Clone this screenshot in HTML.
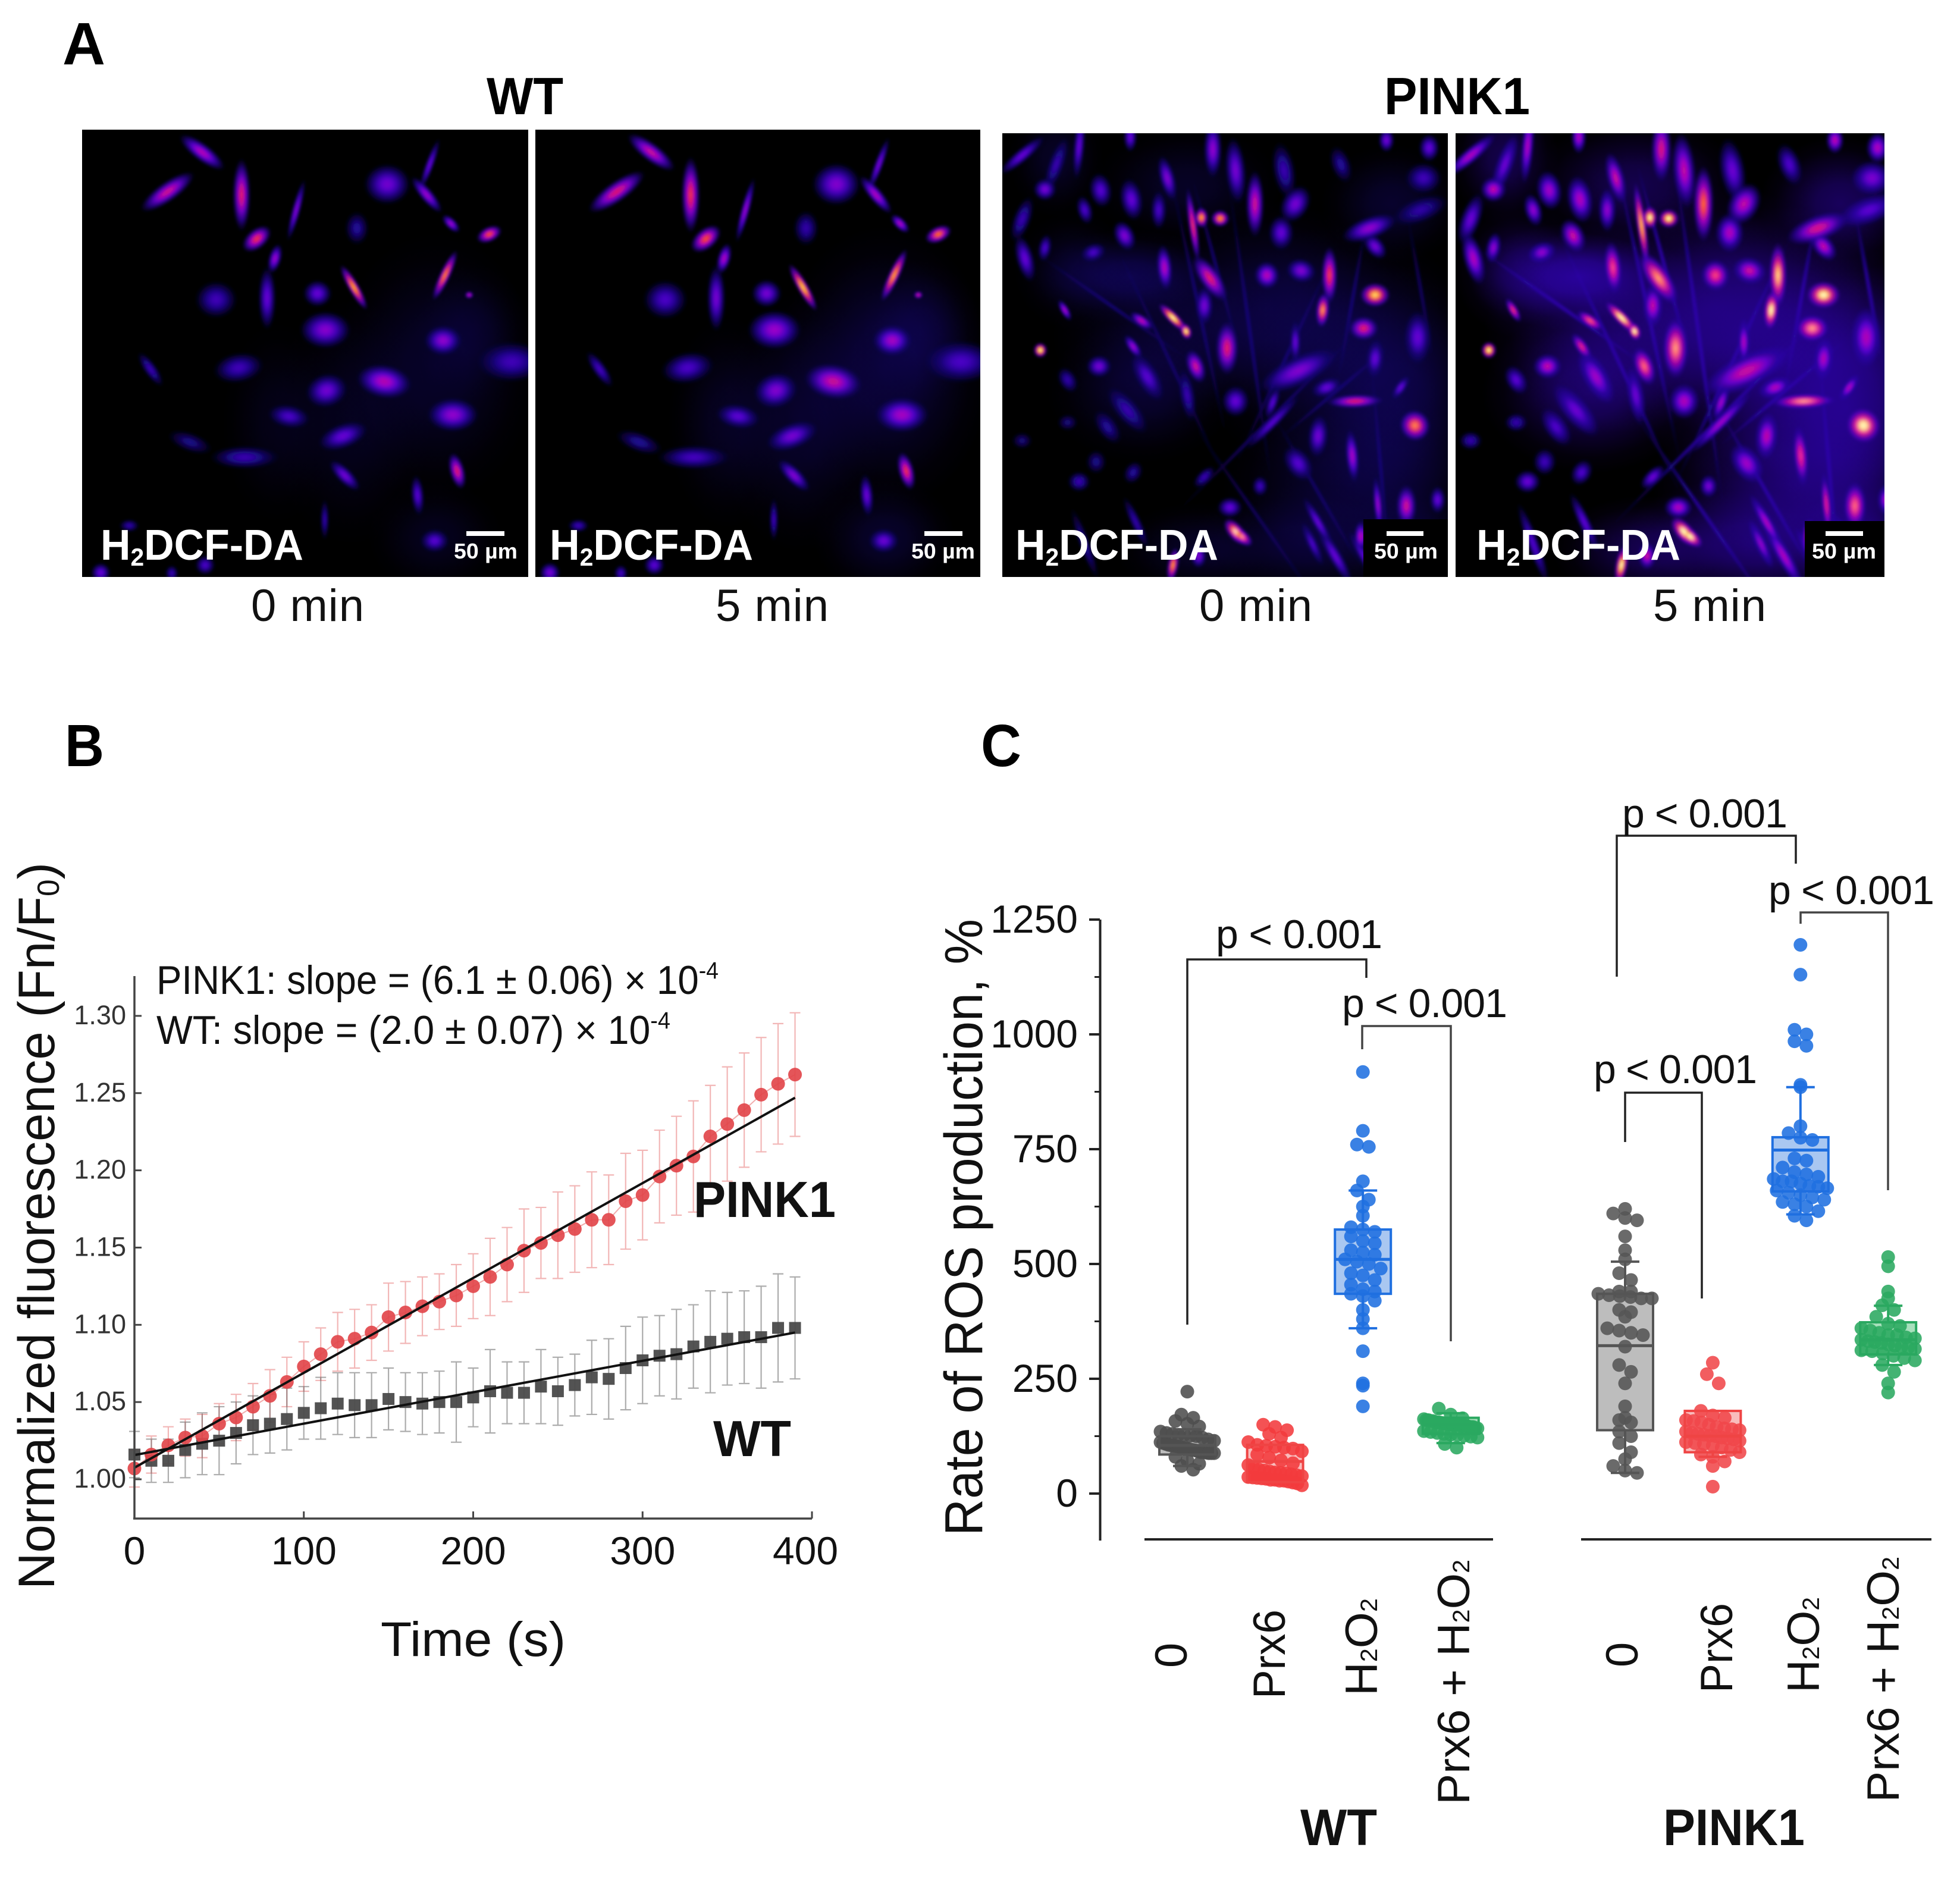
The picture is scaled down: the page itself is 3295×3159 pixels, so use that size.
<!DOCTYPE html>
<html lang="en">
<head>
<meta charset="utf-8">
<title>ROS production figure</title>
<style>
html,body{margin:0;padding:0;background:#fff;}
svg{display:block;}
text{font-family:"Liberation Sans",sans-serif;}
.cell{mix-blend-mode:lighten;}
</style>
</head>
<body>
<svg id="fig" xmlns="http://www.w3.org/2000/svg" width="3295" height="3159" viewBox="0 0 3295 3159">
<defs id="defs">
<filter id="soft" filterUnits="userSpaceOnUse" x="100" y="180" width="3100" height="830"><feGaussianBlur stdDeviation="2.5"/></filter>
<clipPath id="clip-p1"><rect x="138" y="218" width="750" height="752"/></clipPath>
<clipPath id="clip-p2"><rect x="900" y="218" width="748" height="752"/></clipPath>
<clipPath id="clip-p3"><rect x="1685" y="224" width="749" height="746"/></clipPath>
<clipPath id="clip-p4"><rect x="2447" y="224" width="721" height="746"/></clipPath>
</defs>
<rect width="3295" height="3159" fill="#fff"/>

<text x="105" y="108" font-size="100" font-weight="bold" textLength="72" lengthAdjust="spacingAndGlyphs">A</text>
<text x="109" y="1288" font-size="100" font-weight="bold" textLength="66" lengthAdjust="spacingAndGlyphs">B</text>
<text x="1649" y="1288" font-size="100" font-weight="bold" textLength="68" lengthAdjust="spacingAndGlyphs">C</text>

<text x="818" y="192" font-size="88" font-weight="bold" textLength="129" lengthAdjust="spacingAndGlyphs">WT</text>
<text x="2327" y="192" font-size="88" font-weight="bold" textLength="245" lengthAdjust="spacingAndGlyphs">PINK1</text>

<g id="panels"></g>

<g fill="#fff">
  <rect x="2292" y="873" width="142" height="97" fill="#000"/>
  <rect x="3034" y="876" width="134" height="94" fill="#000"/>
  <text x="169" y="941" font-size="72" font-weight="bold" textLength="341" lengthAdjust="spacingAndGlyphs">H<tspan font-size="42" dy="10">2</tspan><tspan dy="-10">DCF-DA</tspan></text>
  <text x="924" y="941" font-size="72" font-weight="bold" textLength="342" lengthAdjust="spacingAndGlyphs">H<tspan font-size="42" dy="10">2</tspan><tspan dy="-10">DCF-DA</tspan></text>
  <text x="1707" y="941" font-size="72" font-weight="bold" textLength="341" lengthAdjust="spacingAndGlyphs">H<tspan font-size="42" dy="10">2</tspan><tspan dy="-10">DCF-DA</tspan></text>
  <text x="2482" y="941" font-size="72" font-weight="bold" textLength="343" lengthAdjust="spacingAndGlyphs">H<tspan font-size="42" dy="10">2</tspan><tspan dy="-10">DCF-DA</tspan></text>
  <rect x="784" y="893" width="64" height="8"/>
  <rect x="1554" y="893" width="64" height="8"/>
  <rect x="2331" y="893" width="62" height="8"/>
  <rect x="3069" y="893" width="63" height="8"/>
  <text x="763" y="939" font-size="36" font-weight="bold" textLength="107" lengthAdjust="spacingAndGlyphs">50 µm</text>
  <text x="1532" y="939" font-size="36" font-weight="bold" textLength="107" lengthAdjust="spacingAndGlyphs">50 µm</text>
  <text x="2310" y="939" font-size="36" font-weight="bold" textLength="107" lengthAdjust="spacingAndGlyphs">50 µm</text>
  <text x="3046" y="939" font-size="36" font-weight="bold" textLength="108" lengthAdjust="spacingAndGlyphs">50 µm</text>
</g>

<g font-size="76" fill="#111">
  <text x="422" y="1044" textLength="190">0 min</text>
  <text x="1203" y="1044" textLength="190">5 min</text>
  <text x="2016" y="1044" textLength="190">0 min</text>
  <text x="2779" y="1044" textLength="190">5 min</text>
</g>

<g id="chart-b"></g>
<text transform="translate(91,2672) rotate(-90)" font-size="86" fill="#111" textLength="1222" lengthAdjust="spacingAndGlyphs">Normalized fluorescence (Fn/F<tspan font-size="52" dy="8">0</tspan><tspan dy="-8">)</tspan></text>
<text x="640" y="2784" font-size="82" fill="#111" textLength="311" lengthAdjust="spacingAndGlyphs">Time (s)</text>
<text x="263" y="1671" font-size="68" fill="#111" textLength="945" lengthAdjust="spacingAndGlyphs">PINK1: slope = (6.1 ± 0.06) × 10<tspan font-size="40" dy="-26">-4</tspan></text>
<text x="263" y="1755" font-size="68" fill="#111" textLength="864" lengthAdjust="spacingAndGlyphs">WT: slope = (2.0 ± 0.07) × 10<tspan font-size="40" dy="-26">-4</tspan></text>
<text x="1166" y="2046" font-size="85" font-weight="bold" fill="#111" textLength="239" lengthAdjust="spacingAndGlyphs">PINK1</text>
<text x="1199" y="2448" font-size="85" font-weight="bold" fill="#111" textLength="131" lengthAdjust="spacingAndGlyphs">WT</text>

<g id="chart-c"></g>
<text transform="translate(1651,2582) rotate(-90)" font-size="90" fill="#111" textLength="1037" lengthAdjust="spacingAndGlyphs">Rate of ROS production, %</text>

<g fill="none" stroke="#222" stroke-width="3.5">
  <path d="M1996 2227V1613H2297V1644"/>
  <path d="M2290 1764V1725H2439V2255" stroke="#444"/>
  <path d="M2732 1920V1837H2861V2183"/>
  <path d="M2718 1642V1405H3019V1452"/>
  <path d="M3027 1553V1534H3174V2001" stroke="#444"/>
</g>
<g font-size="68" fill="#111">
  <text x="2044" y="1594" textLength="280">p &lt; 0.001</text>
  <text x="2256" y="1710" textLength="278">p &lt; 0.001</text>
  <text x="2679" y="1821" textLength="275">p &lt; 0.001</text>
  <text x="2727" y="1391" textLength="278">p &lt; 0.001</text>
  <text x="2973" y="1520" textLength="279">p &lt; 0.001</text>
</g>

<g font-size="76" fill="#111">
  <text transform="translate(1995,2804) rotate(-90)">0</text>
  <text transform="translate(2160,2856) rotate(-90)" textLength="150" lengthAdjust="spacingAndGlyphs">Prx6</text>
  <text transform="translate(2315,2851) rotate(-90)" textLength="164" lengthAdjust="spacingAndGlyphs">H<tspan font-size="40">2</tspan>O<tspan font-size="40">2</tspan></text>
  <text transform="translate(2470,3034) rotate(-90)" textLength="412" lengthAdjust="spacingAndGlyphs">Prx6 + H<tspan font-size="40">2</tspan>O<tspan font-size="40">2</tspan></text>
  <text transform="translate(2753,2803) rotate(-90)">0</text>
  <text transform="translate(2912,2846) rotate(-90)" textLength="151" lengthAdjust="spacingAndGlyphs">Prx6</text>
  <text transform="translate(3058,2846) rotate(-90)" textLength="161" lengthAdjust="spacingAndGlyphs">H<tspan font-size="40">2</tspan>O<tspan font-size="40">2</tspan></text>
  <text transform="translate(3192,3030) rotate(-90)" textLength="413" lengthAdjust="spacingAndGlyphs">Prx6 + H<tspan font-size="40">2</tspan>O<tspan font-size="40">2</tspan></text>
</g>
<text x="2186" y="3102" font-size="86" font-weight="bold" fill="#111" textLength="129" lengthAdjust="spacingAndGlyphs">WT</text>
<text x="2796" y="3102" font-size="86" font-weight="bold" fill="#111" textLength="238" lengthAdjust="spacingAndGlyphs">PINK1</text>
<rect x="1924" y="2586" width="586" height="4" fill="#222"/>
<rect x="2658" y="2586" width="589" height="4" fill="#222"/>

<script>
// ---------- Panel B data ----------
var timePoints = [0,10,20,30,40,50,60,70,80,90,100,110,120,130,140,150,160,170,180,190,200,210,220,230,240,250,260,270,280,290,300,310,320,330,340,350,360,370,380,390];
var pink1Mean = [1.007,1.016,1.022,1.027,1.028,1.036,1.040,1.047,1.054,1.063,1.073,1.081,1.089,1.091,1.095,1.105,1.108,1.112,1.115,1.119,1.125,1.131,1.139,1.148,1.153,1.158,1.162,1.168,1.168,1.180,1.184,1.196,1.203,1.209,1.222,1.230,1.239,1.249,1.256,1.262];
var pink1Err = [.012,.012,.012,.012,.014,.013,.015,.015,.017,.016,.016,.017,.019,.019,.018,.022,.020,.019,.018,.020,.021,.025,.024,.027,.023,.028,.028,.031,.029,.031,.029,.030,.032,.036,.033,.037,.037,.037,.039,.040];
var wtMean = [1.016,1.012,1.012,1.019,1.023,1.025,1.030,1.035,1.036,1.039,1.043,1.046,1.049,1.048,1.048,1.052,1.050,1.049,1.050,1.050,1.053,1.057,1.056,1.056,1.060,1.057,1.061,1.066,1.065,1.072,1.077,1.080,1.081,1.086,1.089,1.091,1.092,1.092,1.098,1.098];
var wtErr = [.015,.014,.014,.018,.020,.022,.020,.019,.019,.020,.017,.020,.020,.021,.021,.020,.019,.020,.020,.026,.019,.027,.020,.020,.024,.022,.020,.024,.026,.027,.028,.026,.029,.027,.033,.030,.030,.033,.035,.033];
var pink1Fit = [1.0075,1.247];
var wtFit = [1.0157,1.095];
var fitTimes = [0,390];
var bXTicks = [0,100,200,300,400];
var bYTicks = [1.00,1.05,1.10,1.15,1.20,1.25,1.30];

// ---------- Panel C data ----------
var cYTicks = [0,250,500,750,1000,1250];
var cMinorTicks = [125,375,625,875,1125];
var wt0Vals = [222,172,165,158,152,146,135,132,130,128,128,126,125,122,118,115,112,110,108,106,105,104,103,102,100,100,98,96,95,94,92,90,90,89,88,88,88,80,72,65,60,52];
var wtPrxVals = [150,145,138,130,122,112,106,104,102,100,98,92,85,78,72,66,62,56,52,50,48,46,45,44,42,40,38,36,35,34,33,32,30,30,28,28,26,24,22,18];
var wtH2o2Vals = [918,790,760,755,680,660,640,625,605,580,575,570,560,550,545,530,525,520,510,505,500,490,480,475,465,455,445,440,435,430,420,400,380,360,310,240,235,190];
var wtComboVals = [185,172,164,162,160,160,158,158,156,155,155,154,153,152,152,151,150,150,150,149,148,148,147,146,145,145,143,142,136,134,132,130,128,128,126,124,122,108,100];
var pk0Vals = [620,610,600,595,560,530,510,480,465,440,440,435,432,430,428,425,425,400,395,385,360,355,350,345,320,280,265,240,190,165,160,155,135,125,110,90,75,60,50,45];
var pkPrxVals = [285,260,240,180,170,165,160,158,155,150,145,142,140,138,135,132,130,128,126,125,122,120,118,115,112,110,108,105,100,95,90,85,80,70,60,15];
var pkH2o2Vals = [1195,1130,1010,1000,985,975,890,885,800,785,775,770,730,725,710,700,695,690,685,680,680,675,670,668,665,660,655,650,645,640,635,630,625,615,605,595];
var pkComboVals = [515,495,440,425,410,400,385,370,365,360,355,350,345,345,340,338,335,332,330,328,325,322,320,318,315,312,310,305,300,295,290,280,265,240,220];
var groupNames = ['wt-0','wt-prx6','wt-h2o2','wt-combo','pink1-0','pink1-prx6','pink1-h2o2','pink1-combo'];
var groupValues = [wt0Vals,wtPrxVals,wtH2o2Vals,wtComboVals,pk0Vals,pkPrxVals,pkH2o2Vals,pkComboVals];
var boxQ1 = [85,25,435,130,138,90,658,303];
var boxMedian = [105,70,510,150,322,125,748,335];
var boxQ3 = [125,106,575,165,435,180,776,373];
var whiskerLow = [60,25,360,110,45,80,608,280];
var whiskerHigh = [140,106,660,175,505,180,885,409];

// ---------- Microscopy appearance (image reconstruction, not chart data) ----------
var wtCells = [[235,110,30,7,-53,.45],[178,240,35,8,55,.5],[300,250,40,7,0,.55],[390,300,35,3,15,.35],[325,395,18,8,50,.6],[355,460,16,5,15,.4],[485,555,28,4,-30,.78],[635,515,30,4,25,.72],[708,380,14,6,65,.65],[645,345,12,4,-45,.4],[540,215,22,20,0,.32],[610,150,30,3,20,.3],[605,250,25,5,-40,.4],[490,360,18,10,0,.15],[258,595,20,18,0,.22],[342,590,35,7,0,.3],[425,575,14,12,0,.3],[438,695,20,22,0,.36],[632,730,16,16,0,.38],[745,800,22,30,0,.22],[295,820,16,22,-10,.22],[150,825,22,5,-35,.2],[440,895,18,18,-15,.32],[535,865,18,24,10,.45],[648,975,18,22,0,.38],[378,980,12,18,10,.25],[467,1045,13,22,-20,.3],[305,1115,12,30,0,.2],[215,1065,10,20,20,.12],[470,1175,22,6,-45,.32],[655,1160,20,6,-15,.55],[590,1240,22,5,-5,.28],[437,1320,22,3,0,.18],[618,1390,12,12,0,.28],[68,1495,10,8,0,.3],[240,1470,10,8,0,.25],[185,1497,8,5,0,.2],[115,1340,6,8,0,.18],[675,580,3,3,0,.5]];
var wtHaze = [[620,820,90,120,.07],[480,1000,70,110,.05],[680,700,50,60,.05],[360,1000,50,90,.04],[620,1380,60,50,.05]];
var pinkCells = [[40,120,30,5,50,.3],[140,90,35,4,5,.3],[230,60,15,5,0,.3],[375,100,30,7,0,.38],[415,170,35,8,-5,.33],[500,170,30,9,-10,.2],[520,280,14,16,-60,.33],[449,280,35,7,0,.5],[745,195,16,15,0,.22],[680,70,12,6,0,.32],[755,95,14,8,0,.3],[80,232,11,9,0,.33],[178,235,18,9,-10,.28],[232,265,22,9,-10,.3],[150,300,15,6,-15,.25],[295,195,24,6,-15,.35],[280,300,20,6,0,.25],[355,325,10,5,0,.78],[388,328,8,7,0,.75],[340,350,40,3,-8,.6],[220,385,16,8,-25,.35],[495,375,18,10,0,.3],[650,360,30,9,70,.38],[660,420,15,7,-40,.33],[740,300,30,10,70,.18],[45,460,25,7,-15,.3],[80,425,14,5,10,.25],[165,440,13,7,70,.25],[290,490,24,6,-5,.45],[370,525,28,8,-35,.55],[470,515,14,10,-10,.45],[530,500,12,12,15,.35],[580,515,30,6,0,.62],[660,580,12,12,0,.85],[568,630,18,5,5,.75],[640,690,12,12,0,.55],[735,720,28,11,0,.3],[305,655,20,4,-45,.98],[328,700,8,4,-20,1],[72,762,7,5,0,1],[250,665,14,4,-55,.48],[115,630,12,3,-30,.42],[360,615,20,7,0,.33],[400,755,28,9,0,.55],[235,750,14,4,-35,.4],[345,815,18,7,-20,.5],[175,815,11,10,0,.33],[260,850,28,9,-30,.28],[660,790,20,7,5,.3],[525,830,45,12,65,.35],[520,735,22,4,0,.3],[120,860,14,7,-30,.18],[575,885,16,7,70,.3],[415,930,16,11,0,.3],[480,935,18,4,20,.28],[625,930,30,5,88,.55],[705,885,14,4,35,.3],[330,910,28,6,-10,.2],[225,960,30,9,-40,.2],[190,1015,20,8,-35,.15],[730,1010,16,12,-35,.72],[480,1000,40,4,45,.28],[560,1045,22,8,5,.32],[620,1110,28,5,-5,.42],[525,1135,20,10,-35,.28],[120,1000,8,8,0,.1],[170,1130,12,8,0,.12],[235,1165,12,7,30,.15],[140,1195,10,9,0,.2],[360,1180,14,5,45,.2],[458,1210,10,6,0,.22],[405,1280,10,10,0,.3],[715,1275,22,8,0,.5],[665,1270,30,3,-5,.4],[770,1255,14,6,0,.3],[415,1360,16,6,-40,.85],[425,1375,14,5,-50,.75],[635,1375,16,5,0,.45],[305,1470,18,4,10,.75],[350,1440,12,6,0,.35],[550,1400,25,4,-25,.25],[40,1060,8,8,0,.1],[720,1500,6,4,0,.55],[560,1330,30,4,-30,.3],[590,1440,35,5,-30,.3],[700,1400,30,4,-20,.25],[150,1400,40,4,-20,.15],[240,1330,30,4,-25,.18],[640,1440,30,4,-30,.28],[40,330,25,7,20,.2],[600,150,20,8,-20,.15],[100,150,30,6,20,.2],
[350,620,150,1.2,-12,.1],[440,700,170,1.2,-8,.11],[500,800,130,1.2,25,.1],[470,1000,140,1.2,45,.1],[300,800,140,1.2,-25,.09],[200,620,100,1.2,-55,.1],[590,900,80,1.2,50,.1],[670,1150,110,1.2,-5,.1],[560,1230,100,1.2,-30,.09],[450,1300,120,1.2,-35,.08],[380,480,100,1.2,-15,.1],[620,600,90,1.2,10,.1],[740,560,80,1.2,-10,.09]];
var pinkHaze = [[230,520,80,40,.1],[600,780,120,110,.08],[470,620,110,90,.07],[700,950,80,120,.08],[300,720,100,70,.06],[620,1200,110,80,.07],[250,900,80,60,.06],[130,500,50,50,.05],[690,280,60,50,.06],[330,220,80,50,.05],[100,130,40,50,.05],[540,1400,100,50,.07],[720,1400,60,50,.07],[350,1420,70,40,.05]];
var fireStops = [[0,0,0,0],[.15,24,8,130],[.3,80,0,205],[.45,160,0,200],[.6,225,20,105],[.75,255,110,20],[.88,255,208,50],[1,255,255,255]];

var SVGNS = 'http://www.w3.org/2000/svg';
function mk(parent, tag, attrs){
  var el = document.createElementNS(SVGNS, tag);
  for (var k in attrs) el.setAttribute(k, attrs[k]);
  parent.appendChild(el);
  return el;
}
function fire(i){
  i = Math.max(0, Math.min(1, i));
  for (var s = 1; s < fireStops.length; s++){
    if (i <= fireStops[s][0]){
      var a = fireStops[s-1], b = fireStops[s], t = (i-a[0])/(b[0]-a[0]);
      return 'rgb(' + [1,2,3].map(function(n){return Math.round(a[n]+(b[n]-a[n])*t);}).join(',') + ')';
    }
  }
  return '#fff';
}
var gradCache = {};
function cellGradient(peak){
  var key = 'cg' + Math.round(peak*100);
  if (gradCache[key]) return key;
  gradCache[key] = 1;
  var p = Math.round(peak*100)/100;
  var grad = mk(document.getElementById('defs'), 'radialGradient', {id:key});
  mk(grad, 'stop', {offset:0, 'stop-color':fire(p)});
  mk(grad, 'stop', {offset:.22, 'stop-color':fire(p*.88)});
  mk(grad, 'stop', {offset:.45, 'stop-color':fire(p*.62), 'stop-opacity':.97});
  mk(grad, 'stop', {offset:.72, 'stop-color':fire(p*.35), 'stop-opacity':.75});
  mk(grad, 'stop', {offset:1, 'stop-color':fire(p*.2), 'stop-opacity':0});
  return key;
}
function hazeGradient(alpha, color){
  var key = 'hg' + Math.round(alpha*100) + color.replace(/[^0-9]/g,'');
  if (gradCache[key]) return key;
  gradCache[key] = 1;
  var grad = mk(document.getElementById('defs'), 'radialGradient', {id:key});
  mk(grad, 'stop', {offset:0, 'stop-color':color, 'stop-opacity':alpha});
  mk(grad, 'stop', {offset:.3, 'stop-color':color, 'stop-opacity':alpha*.82});
  mk(grad, 'stop', {offset:.55, 'stop-color':color, 'stop-opacity':alpha*.45});
  mk(grad, 'stop', {offset:.8, 'stop-color':color, 'stop-opacity':alpha*.12});
  mk(grad, 'stop', {offset:1, 'stop-color':color, 'stop-opacity':0});
  return key;
}
function drawPanel(name, clip, rect, cells, haze, map, boost, hazeK, hazeColor, grow){
  var panels = document.getElementById('panels');
  var g = mk(panels, 'g', {'clip-path':'url(#'+clip+')'});
  
  
  mk(g, 'rect', {x:rect[0], y:rect[1], width:rect[2], height:rect[3], fill:'#000'});
  var wrap = mk(g, 'g', {style:'isolation:isolate'});
  haze.forEach(function(h){
    var p = map(h[0], h[1]);
    mk(wrap, 'ellipse', {cx:p[0], cy:p[1], rx:h[2]*1.9*grow, ry:h[3]*1.9*grow,
      fill:'url(#'+hazeGradient(Math.min(1,h[4]*hazeK), hazeColor)+')'});
  });
  var b = mk(wrap, 'g', {filter:'url(#soft)', 'class':'cell', style:'isolation:isolate'});
  cells.forEach(function(c){
    var p = map(c[0], c[1]);
    var peak = boost(c[5]);
    mk(b, 'ellipse', {'class':'cell', cx:0, cy:0, rx:c[3]*1.9*grow+2, ry:c[2]*1.5*grow+2,
      transform:'translate('+p[0].toFixed(1)+','+p[1].toFixed(1)+') rotate('+c[4]+')',
      fill:'url(#'+cellGradient(peak)+')'});
  });
}
drawPanel('microscopy-wt-0min','clip-p1',[138,218,750,752],wtCells,wtHaze,function(x,y){return [100+x/.98,200+y/1.96];},function(i){return Math.min(1,i*1.05+.03);},5,'rgb(20,6,120)',1);
drawPanel('microscopy-wt-5min','clip-p2',[900,218,748,752],wtCells,wtHaze,function(x,y){return [100+x/.98+755,200+y/1.96];},function(i){return Math.min(1,i*1.1+.05);},7,'rgb(22,6,125)',1.05);
drawPanel('microscopy-pink1-0min','clip-p3',[1685,224,749,746],pinkCells,pinkHaze,function(x,y){return [1680+x/1.045,200+y/1.96];},function(i){return Math.min(1,i*1.05+.03);},6,'rgb(22,6,125)',1.05);
drawPanel('microscopy-pink1-5min','clip-p4',[2447,224,721,746],pinkCells,pinkHaze,function(x,y){return [1680+x/1.045+754,200+y/1.96];},function(i){return Math.min(1,i*1.3+.1);},9,'rgb(45,2,170)',1.2);

// ---------- Panel B ----------
var chartB = document.getElementById('chart-b');
var bx0 = 226, bPxPerSec = 2.8475, by0 = 2487, bPxPerUnit = 2597;
function bX(t){ return bx0 + t*bPxPerSec; }
function bY(v){ return by0 - (v-1)*bPxPerUnit; }

function drawErrors(means, errs, color, name){
  var g = mk(chartB, 'g', {stroke:color, 'stroke-width':2.2, fill:'none'});
  
  
  means.forEach(function(m, i){
    var x = bX(timePoints[i]), hi = bY(m+errs[i]), lo = bY(m-errs[i]);
    mk(g, 'path', {d:'M'+x+' '+hi+'V'+lo+'M'+(x-9)+' '+hi+'H'+(x+9)+'M'+(x-9)+' '+lo+'H'+(x+9)});
  });
}
drawErrors(pink1Mean, pink1Err, 'rgba(224,80,80,.42)', 'pink1-error-bars');
drawErrors(wtMean, wtErr, 'rgba(70,70,70,.45)', 'wt-error-bars');

function drawLink(means, color, name){
  var pl = mk(chartB, 'polyline', {fill:'none', stroke:color, 'stroke-width':2,
    points: means.map(function(m,i){return bX(timePoints[i])+','+bY(m);}).join(' ')});
  
  
}
drawLink(pink1Mean, 'rgba(224,70,70,.45)', 'pink1-connector');

wtMean.forEach(function(m, i){
  var s = mk(chartB, 'rect', {x:bX(timePoints[i])-10, y:bY(m)-10, width:20, height:20, fill:'#4a4a4a', 'fill-opacity':.95});
  
  
});
pink1Mean.forEach(function(m, i){
  var c = mk(chartB, 'circle', {cx:bX(timePoints[i]), cy:bY(m), r:11.5, fill:'#e2474b', 'fill-opacity':.92});
  
  
});

var pinkFitLine = mk(chartB, 'line', {x1:bX(fitTimes[0]), y1:bY(pink1Fit[0]), x2:bX(fitTimes[1]), y2:bY(pink1Fit[1]), stroke:'#111', 'stroke-width':4});


var wtFitLine = mk(chartB, 'line', {x1:bX(fitTimes[0]), y1:bY(wtFit[0]), x2:bX(fitTimes[1]), y2:bY(wtFit[1]), stroke:'#111', 'stroke-width':4});



var bAxisY = mk(chartB, 'line', {x1:226, y1:1641, x2:226, y2:2554, stroke:'#444', 'stroke-width':3.5});


var bAxisX = mk(chartB, 'line', {x1:224, y1:2553, x2:1365, y2:2553, stroke:'#444', 'stroke-width':3.5});



bXTicks.forEach(function(t){
  var x = bX(t);
  var tk = mk(chartB, 'line', {x1:x, y1:2553, x2:x, y2:2541, stroke:'#444', 'stroke-width':3});
  
  
  var lb = mk(chartB, 'text', {x:Math.min(x,1354), y:2630, 'font-size':66, 'text-anchor':'middle', fill:'#111'});
  lb.textContent = String(t);
  
  
});
bYTicks.forEach(function(v){
  var y = bY(v);
  var tk = mk(chartB, 'line', {x1:226, y1:y, x2:238, y2:y, stroke:'#444', 'stroke-width':3});
  
  
  var lb = mk(chartB, 'text', {x:212, y:y+14, 'font-size':45, 'text-anchor':'end', fill:'#333'});
  lb.textContent = v.toFixed(2);
  
  
});

// ---------- Panel C ----------
var chartC = document.getElementById('chart-c');
var cy0 = 2511, cPxPerUnit = 0.772;
function cY(v){ return cy0 - v*cPxPerUnit; }
function cX(i){
  // two facets of four equally spaced categories
  return i < 4 ? 1996 + i*147.6 : 2732 + (i-4)*147.4;
}
var strokeCols = ['#555','#ef4444','#1f6fe0','#2aa860','#555','#ef4444','#1f6fe0','#2aa860'];
var fillCols = ['#bdbdbd','#f9bcbc','#a9c7f1','#a8e0bc','#bdbdbd','#f9bcbc','#a9c7f1','#a8e0bc'];
var dotCols = ['#4d4d4d','#f23a3c','#1f6fe0','#2aa860','#555555','#f0474a','#1f6fe0','#2aa860'];
var boxHalf = 47, capHalf = 24, dotR = 11.5;

function swarm(vals){
  var bins = {}, out = [];
  vals.forEach(function(v, i){
    var b = Math.round(v/25);
    (bins[b] = bins[b] || []).push(i);
  });
  Object.keys(bins).forEach(function(b){
    var idx = bins[b], n = idx.length;
    var step = n > 1 ? Math.min(20, 90/(n-1)) : 0;
    idx.forEach(function(id, k){ out[id] = (k-(n-1)/2)*step; });
  });
  return out;
}

groupValues.forEach(function(vals, i){
  var x = cX(i), col = strokeCols[i];
  var g = mk(chartC, 'g', {});
  
  
  mk(g, 'rect', {x:x-boxHalf, y:cY(boxQ3[i]), width:boxHalf*2, height:cY(boxQ1[i])-cY(boxQ3[i]), fill:fillCols[i]});
  var offs = swarm(vals);
  vals.forEach(function(v, k){
    var d = mk(g, 'circle', {cx:x+offs[k], cy:cY(v), r:dotR, fill:dotCols[i], 'fill-opacity':.88});
    
    
  });
  mk(g, 'rect', {x:x-boxHalf, y:cY(boxQ3[i]), width:boxHalf*2, height:cY(boxQ1[i])-cY(boxQ3[i]), fill:'none', stroke:col, 'stroke-width':4});
  mk(g, 'path', {d:'M'+(x-boxHalf)+' '+cY(boxMedian[i])+'H'+(x+boxHalf), stroke:col, 'stroke-width':5, fill:'none'});
  mk(g, 'path', {d:'M'+x+' '+cY(boxQ3[i])+'V'+cY(whiskerHigh[i])+'M'+(x-capHalf)+' '+cY(whiskerHigh[i])+'H'+(x+capHalf)+
    'M'+x+' '+cY(boxQ1[i])+'V'+cY(whiskerLow[i])+'M'+(x-capHalf)+' '+cY(whiskerLow[i])+'H'+(x+capHalf), stroke:col, 'stroke-width':4, fill:'none'});
});

var cAxisY = mk(chartC, 'line', {x1:1849.5, y1:cY(1250), x2:1849.5, y2:2590, stroke:'#222', 'stroke-width':4});


cYTicks.forEach(function(v){
  var y = cY(v);
  var tk = mk(chartC, 'line', {x1:1831, y1:y, x2:1849, y2:y, stroke:'#222', 'stroke-width':4});
  
  
  var lb = mk(chartC, 'text', {x:1812, y:y+22, 'font-size':66, 'text-anchor':'end', fill:'#111'});
  lb.textContent = String(v);
  
  
});
cMinorTicks.forEach(function(v){
  var y = cY(v);
  var tk = mk(chartC, 'line', {x1:1840, y1:y, x2:1849, y2:y, stroke:'#222', 'stroke-width':3});
  
  
});
</script>
</svg>
</body>
</html>
